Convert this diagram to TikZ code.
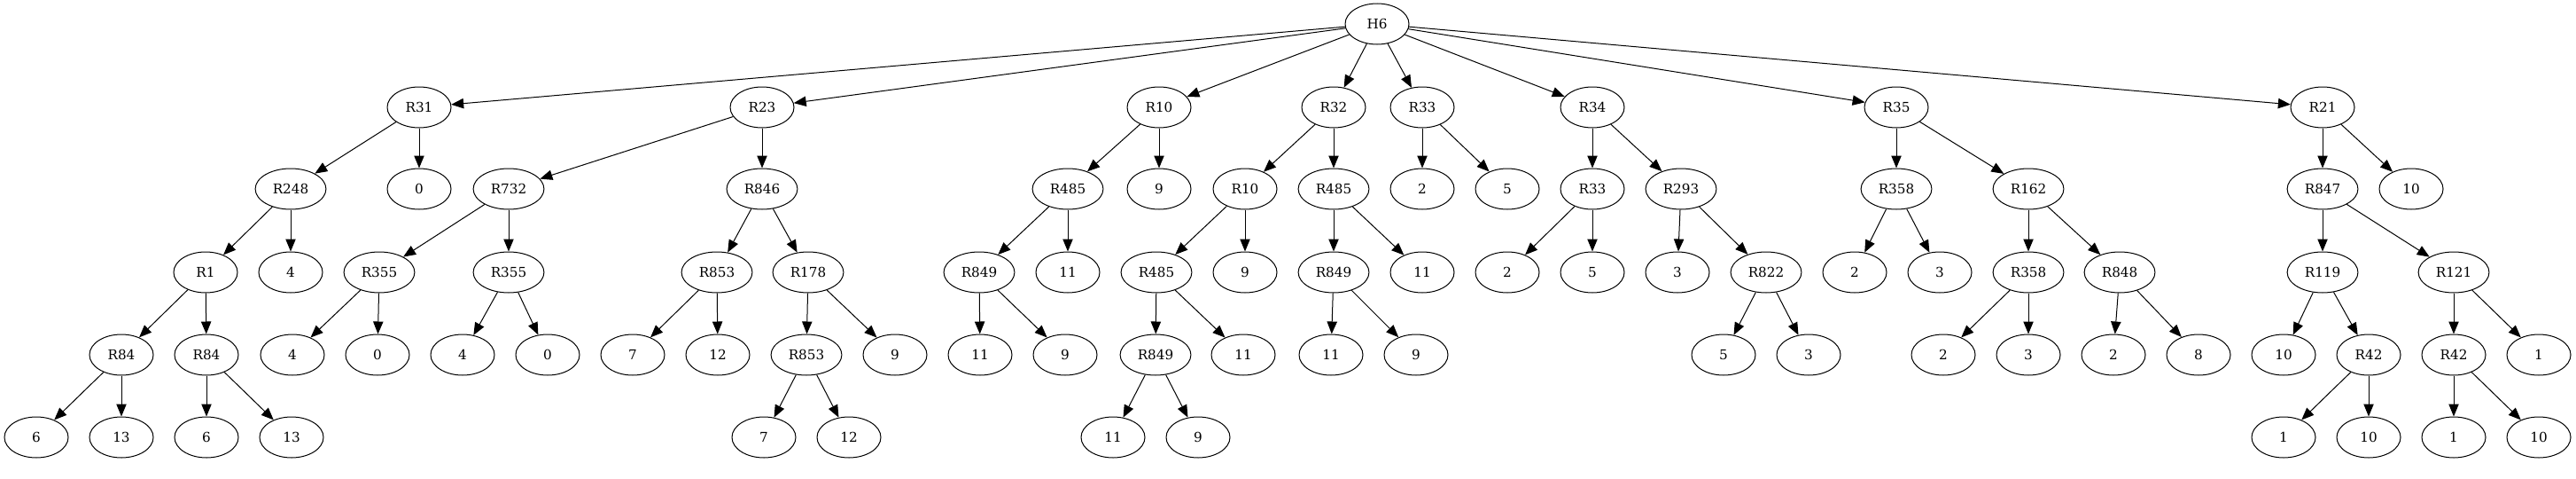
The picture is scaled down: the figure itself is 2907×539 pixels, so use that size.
\documentclass[tikz,border=0pt]{standalone}
\usepackage{fontspec}
\setmainfont{DejaVu Serif}
\usetikzlibrary{shapes.geometric,arrows.meta}

\tikzset{
  vert/.style={draw,ellipse,line width=0.75pt,minimum width=54pt,minimum height=34.5pt,
    inner xsep=6pt,inner ysep=2pt,font=\fontsize{11.4}{13}\selectfont},
  edge/.style={line width=0.75pt,-{Triangle[length=10.5pt,width=8.5pt]}}
}

\begin{document}
\begin{tikzpicture}[x=0.75pt,y=-0.75pt]
\useasboundingbox (0,0) rectangle (2907,539);
% root
\node[vert] (h6) at (1554,27) {H6};
% level 1
\node[vert] (r31) at (473,121) {R31};
\node[vert] (r23) at (860,121) {R23};
\node[vert] (r10) at (1308,121) {R10};
\node[vert] (r32) at (1505,121) {R32};
\node[vert] (r33) at (1605,121) {R33};
\node[vert] (r34) at (1797,121) {R34};
\node[vert] (r35) at (2140,121) {R35};
\node[vert] (r21) at (2621,121) {R21};
% level 2
\node[vert] (r248) at (328,213) {R248};
\node[vert] (a0) at (473,213) {0};
\node[vert] (r732) at (574,213) {R732};
\node[vert] (r846) at (860,213) {R846};
\node[vert] (r485a) at (1205,213) {R485};
\node[vert] (b9) at (1308,213) {9};
\node[vert] (r10b) at (1405,213) {R10};
\node[vert] (r485c) at (1505,213) {R485};
\node[vert] (c2) at (1605,213) {2};
\node[vert] (c5) at (1701,213) {5};
\node[vert] (r33b) at (1797,213) {R33};
\node[vert] (r293) at (1897,213) {R293};
\node[vert] (r358a) at (2140,213) {R358};
\node[vert] (r162) at (2289,213) {R162};
\node[vert] (r847) at (2621,213) {R847};
\node[vert] (d10) at (2721,213) {10};
% level 3
\node[vert] (r1) at (232,307) {R1};
\node[vert] (e4) at (328,307) {4};
\node[vert] (r355a) at (428,307) {R355};
\node[vert] (r355b) at (574,307) {R355};
\node[vert] (r853a) at (809,307) {R853};
\node[vert] (r178) at (912,307) {R178};
\node[vert] (r849a) at (1105,307) {R849};
\node[vert] (f11) at (1205,307) {11};
\node[vert] (r485b) at (1305,307) {R485};
\node[vert] (f9) at (1405,307) {9};
\node[vert] (r849c) at (1505,307) {R849};
\node[vert] (g11) at (1605,307) {11};
\node[vert] (g2) at (1701,307) {2};
\node[vert] (g5) at (1797,307) {5};
\node[vert] (g3) at (1893,307) {3};
\node[vert] (r822) at (1993,307) {R822};
\node[vert] (h2) at (2093,307) {2};
\node[vert] (h3) at (2189,307) {3};
\node[vert] (r358b) at (2289,307) {R358};
\node[vert] (r848) at (2392,307) {R848};
\node[vert] (r119) at (2621,307) {R119};
\node[vert] (r121) at (2769,307) {R121};
% level 4
\node[vert] (r84a) at (137,400) {R84};
\node[vert] (r84b) at (233,400) {R84};
\node[vert] (i4) at (330,400) {4};
\node[vert] (i0) at (426,400) {0};
\node[vert] (j4) at (522,400) {4};
\node[vert] (j0) at (618,400) {0};
\node[vert] (k7) at (714,400) {7};
\node[vert] (k12) at (810,400) {12};
\node[vert] (r853b) at (910,400) {R853};
\node[vert] (k9) at (1010,400) {9};
\node[vert] (l11) at (1106,400) {11};
\node[vert] (l9) at (1202,400) {9};
\node[vert] (r849b) at (1304,400) {R849};
\node[vert] (m11) at (1403,400) {11};
\node[vert] (n11) at (1502,400) {11};
\node[vert] (n9) at (1598,400) {9};
\node[vert] (o5) at (1945,400) {5};
\node[vert] (o3) at (2041,400) {3};
\node[vert] (p2) at (2193,400) {2};
\node[vert] (p3) at (2289,400) {3};
\node[vert] (q2) at (2385,400) {2};
\node[vert] (q8) at (2481,400) {8};
\node[vert] (s10) at (2577,400) {10};
\node[vert] (r42a) at (2673,400) {R42};
\node[vert] (r42b) at (2769,400) {R42};
\node[vert] (s1) at (2865,400) {1};
% level 5
\node[vert] (t6) at (41,493) {6};
\node[vert] (t13) at (137,493) {13};
\node[vert] (u6) at (233,493) {6};
\node[vert] (u13) at (329,493) {13};
\node[vert] (v7) at (862,493) {7};
\node[vert] (v12) at (958,493) {12};
\node[vert] (w11) at (1256,493) {11};
\node[vert] (w9) at (1352,493) {9};
\node[vert] (x1) at (2577,493) {1};
\node[vert] (x10) at (2673,493) {10};
\node[vert] (y1) at (2769,493) {1};
\node[vert] (y10) at (2865,493) {10};
% edges
\foreach \a/\b in {h6/r31,h6/r23,h6/r10,h6/r32,h6/r33,h6/r34,h6/r35,h6/r21,
    r31/r248,r31/a0,r248/r1,r248/e4,r1/r84a,r1/r84b,r84a/t6,r84a/t13,r84b/u6,r84b/u13,
    r23/r732,r23/r846,r732/r355a,r732/r355b,r355a/i4,r355a/i0,r355b/j4,r355b/j0,
    r846/r853a,r846/r178,r853a/k7,r853a/k12,r178/r853b,r178/k9,r853b/v7,r853b/v12,
    r10/r485a,r10/b9,r485a/r849a,r485a/f11,r849a/l11,r849a/l9,
    r32/r10b,r32/r485c,r10b/r485b,r10b/f9,r485b/r849b,r485b/m11,r849b/w11,r849b/w9,
    r485c/r849c,r485c/g11,r849c/n11,r849c/n9,
    r33/c2,r33/c5,r34/r33b,r34/r293,r33b/g2,r33b/g5,r293/g3,r293/r822,r822/o5,r822/o3,
    r35/r358a,r35/r162,r358a/h2,r358a/h3,r162/r358b,r162/r848,r358b/p2,r358b/p3,r848/q2,r848/q8,
    r21/r847,r21/d10,r847/r119,r847/r121,r119/s10,r119/r42a,r42a/x1,r42a/x10,
    r121/r42b,r121/s1,r42b/y1,r42b/y10}
  \draw[edge] (\a) -- (\b);
\end{tikzpicture}
\end{document}
